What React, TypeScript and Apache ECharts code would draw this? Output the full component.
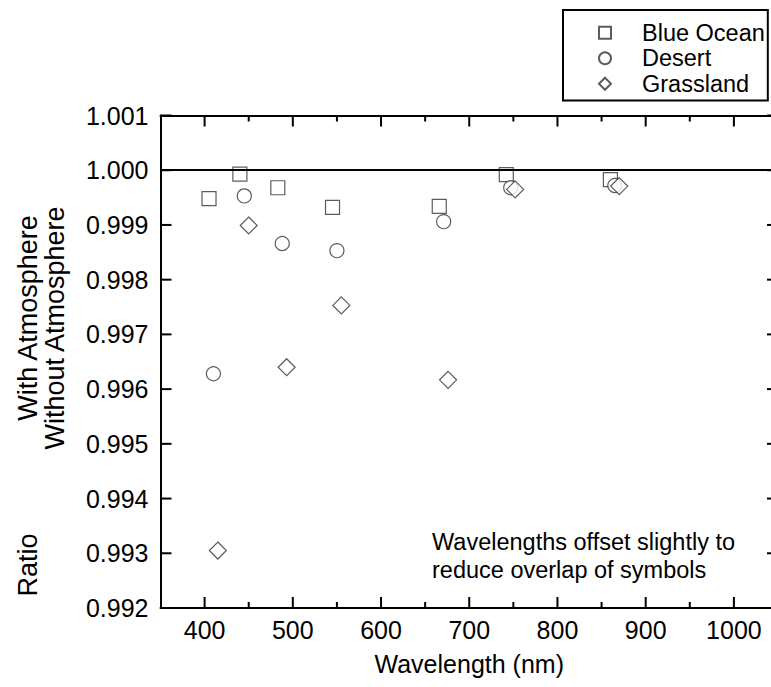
import React, { useEffect, useRef } from "react";
import * as echarts from "echarts";

const blueOcean: [number, number][] = [
  [405, 0.99948], [440, 0.99993], [483, 0.99968], [545, 0.99932],
  [666, 0.99934], [742, 0.99992], [860, 0.99983],
];
const desert: [number, number][] = [
  [410, 0.99628], [445, 0.99953], [488, 0.99866], [550, 0.99853],
  [671, 0.99906], [747, 0.99968], [865, 0.99972],
];
const grassland: [number, number][] = [
  [415, 0.99305], [450, 0.99899], [493, 0.9964], [555, 0.99753],
  [676, 0.99617], [752, 0.99965], [870, 0.99971],
];
const xMajorTicks = [400, 500, 600, 700, 800, 900, 1000];
const xMinorTicks = [450, 550, 650, 750, 850, 950];
const yTicks = [0.992, 0.993, 0.994, 0.995, 0.996, 0.997, 0.998, 0.999, 1.0, 1.001];
const xMin = 350;
const xMax = 1050;
const yMin = 0.992;
const yMax = 1.001;
const yStep = 0.001;
const referenceLevel = 1.0;

const FONT = "'Liberation Sans', Arial, Helvetica, sans-serif";
const INK = "#000";
const MARK = "#333";

export default function App() {
  const ref = useRef<HTMLDivElement>(null);
  useEffect(() => {
    if (!ref.current) return;
    const chart = echarts.init(ref.current, undefined, { renderer: "svg" });
    const grid = {
      left: 160.5,
      top: 115.5,
      width: 617.5,
      height: 492.5,
      outerBoundsMode: "none",
      containLabel: false,
    };
    const lineOn = { show: true, lineStyle: { color: INK, width: 2 } };
    const baseX = {
      type: "value" as const,
      min: xMin,
      max: xMax,
      splitLine: { show: false },
      axisTick: { show: false },
    };
    const baseY = {
      type: "value" as const,
      min: yMin,
      max: yMax,
      interval: yStep,
      splitLine: { show: false },
      axisTick: { show: false },
    };
    const symStyle = { color: "#fff", borderColor: MARK, borderWidth: 1.2 };
    const rotTitle = (text: string, x: number, y: number) => ({
      type: "text",
      x,
      y,
      rotation: Math.PI / 2,
      style: {
        text,
        fontFamily: FONT,
        fontSize: 27,
        fill: INK,
        align: "center",
        verticalAlign: "middle",
        textAlign: "center",
        textVerticalAlign: "middle",
      },
    });
    chart.setOption({
      animation: false,
      backgroundColor: "#fff",
      grid,
      legend: {
        orient: "vertical",
        left: 563,
        top: 10,
        padding: [10, 3, 4, 35],
        itemGap: 0,
        itemWidth: 12,
        itemHeight: 12,
        borderColor: INK,
        borderWidth: 2,
        selectedMode: false,
        textStyle: {
          fontFamily: FONT,
          fontSize: 23.5,
          color: INK,
          lineHeight: 25.5,
          padding: [0, 0, 0, 26],
        },
        data: [
          { name: "Blue Ocean", icon: "rect" },
          { name: "Desert", icon: "circle" },
          { name: "Grassland", icon: "diamond" },
        ],
      },
      xAxis: [
        {
          ...baseX,
          position: "bottom",
          name: "Wavelength (nm)",
          nameLocation: "middle",
          nameGap: 43,
          nameTextStyle: { fontFamily: FONT, fontSize: 25, color: INK },
          axisLine: lineOn,
          axisLabel: {
            show: true,
            customValues: xMajorTicks,
            fontFamily: FONT,
            fontSize: 25,
            color: INK,
            margin: 9,
            formatter: (v: number) => String(v),
          },
        },
        {
          ...baseX,
          position: "top",
          axisLine: lineOn,
          axisLabel: { show: false },
        },
      ],
      yAxis: [
        {
          ...baseY,
          position: "left",
          axisLine: lineOn,
          axisLabel: {
            fontFamily: FONT,
            fontSize: 25,
            color: INK,
            margin: 12,
            formatter: (v: number) => v.toFixed(3),
          },
        },
        {
          ...baseY,
          position: "right",
          axisLine: lineOn,
          axisLabel: { show: false },
        },
      ],
      series: [
        {
          name: "Blue Ocean",
          type: "scatter",
          symbol: "rect",
          symbolSize: 14,
          itemStyle: symStyle,
          data: blueOcean,
          markLine: {
            silent: true,
            symbol: ["none", "none"],
            label: { show: false },
            lineStyle: { color: INK, width: 2, type: "solid" },
            data: [{ yAxis: referenceLevel }],
          },
        },
        {
          name: "Desert",
          type: "scatter",
          symbol: "circle",
          symbolSize: 14,
          itemStyle: symStyle,
          data: desert,
        },
        {
          name: "Grassland",
          type: "scatter",
          symbol: "diamond",
          symbolSize: 17,
          itemStyle: symStyle,
          data: grassland,
        },
      ],
    });

    // inward tick marks on all four sides, placed through the chart's own scales
    const px = (x: number, y: number) =>
      chart.convertToPixel({ xAxisIndex: 0, yAxisIndex: 0 }, [x, y]) as number[];
    const MAJOR = 11;
    const MINOR = 6;
    const tick = (x1: number, y1: number, x2: number, y2: number) => ({
      type: "line",
      silent: true,
      z: 50,
      shape: { x1, y1, x2, y2 },
      style: { stroke: INK, lineWidth: 2 },
    });
    const ticks: any[] = [];
    const [, yBottom] = px(xMin, yMin);
    const [, yTop] = px(xMin, yMax);
    const [xLeft] = px(xMin, yMin);
    const [xRight] = px(xMax, yMin);
    for (const v of xMajorTicks) {
      const [x] = px(v, yMin);
      ticks.push(tick(x, yBottom, x, yBottom - MAJOR));
      ticks.push(tick(x, yTop, x, yTop + MAJOR));
    }
    for (const v of xMinorTicks) {
      const [x] = px(v, yMin);
      ticks.push(tick(x, yBottom, x, yBottom - MINOR));
      ticks.push(tick(x, yTop, x, yTop + MINOR));
    }
    for (const v of yTicks) {
      const [, y] = px(xMin, v);
      ticks.push(tick(xLeft, y, xLeft + MAJOR, y));
      ticks.push(tick(xRight, y, xRight - MAJOR, y));
    }

    chart.setOption({
      graphic: [
        rotTitle("With Atmosphere", 28, 318),
        rotTitle("Without Atmosphere", 55, 328),
        rotTitle("Ratio", 28, 565),
        {
          type: "text",
          x: 432,
          y: 528,
          style: {
            text: "Wavelengths offset slightly to\nreduce overlap of symbols",
            fontFamily: FONT,
            fontSize: 23.5,
            lineHeight: 28,
            fill: INK,
          },
        },
        ...ticks,
      ],
    });
    return () => chart.dispose();
  }, []);
  return (
    <div
      ref={ref}
      style={{ position: "absolute", left: 0, top: 0, width: 771, height: 687 }}
    />
  );
}
